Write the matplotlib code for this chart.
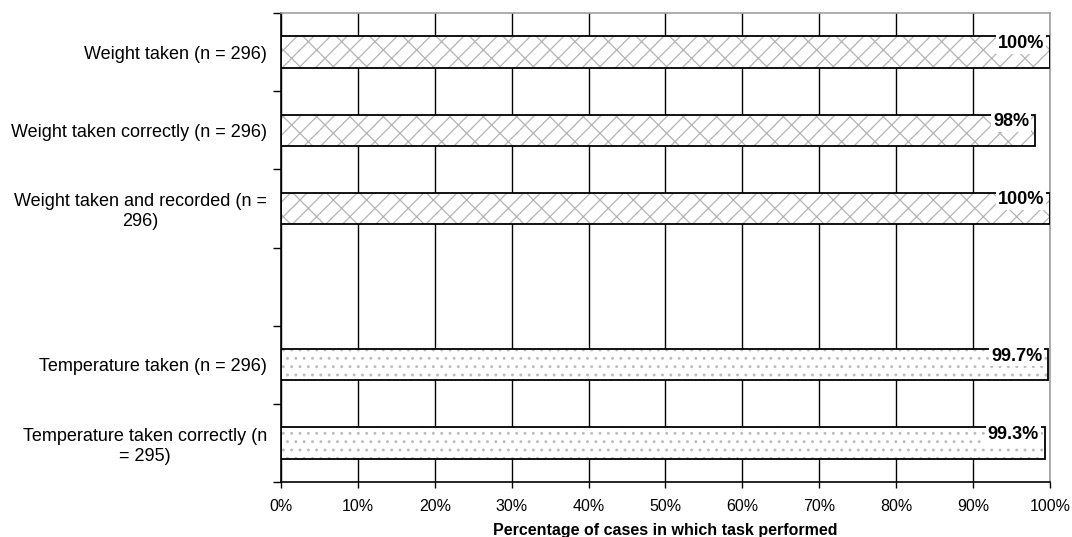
import matplotlib.pyplot as plt
import numpy as np

plt.rcParams['font.family'] = ['Liberation Sans', 'DejaVu Sans']
plt.rcParams['hatch.linewidth'] = 0.9

# tasks, top to bottom; the empty slot separates weight from temperature
tasks = ['Weight taken (n = 296)',
         'Weight taken correctly (n = 296)',
         'Weight taken and recorded (n =\n296)',
         '',
         'Temperature taken (n = 296)',
         'Temperature taken correctly (n\n= 295)']
pct = [100, 98, 100, None, 99.7, 99.3]
labels = ['100%', '98%', '100%', '', '99.7%', '99.3%']
group = ['weight', 'weight', 'weight', '', 'temp', 'temp']

hatch_of = {'weight': '/x', 'temp': '..'}
hatch_col = {'weight': '#b4b4b4', 'temp': '#bdbdbd'}

fig = plt.figure(figsize=(10.72, 5.37), dpi=100)
ax = fig.add_axes([0.2621, 0.1024, 0.7174, 0.8734])

pos = np.arange(len(tasks))
bar_h = 0.4

for i in pos:
    if pct[i] is None:
        continue
    # hatch layer (drawn in edge colour, no outline)
    ax.barh(i, pct[i], height=bar_h, color='white', edgecolor=hatch_col[group[i]],
            hatch=hatch_of[group[i]], linewidth=0, zorder=2)
    # black outline on top
    ax.barh(i, pct[i], height=bar_h, fill=False, edgecolor='black',
            linewidth=1.3, zorder=3)
    ax.annotate(labels[i], xy=(pct[i], i - bar_h / 2), xytext=(-4, -5),
                textcoords='offset points', ha='right', va='center',
                fontsize=13, fontweight='bold', zorder=4,
                bbox=dict(boxstyle='square,pad=0.1', fc='white', ec='none'))

ax.set_xlim(0, 100)
ax.set_ylim(len(tasks) - 0.5, -0.5)

ax.set_xticks(np.arange(0, 101, 10))
ax.set_xticklabels(['%d%%' % v for v in range(0, 101, 10)], fontsize=11.5)
ax.tick_params(axis='x', length=4, width=1, pad=8, color='black')

# category names at slot centres, tick marks on slot boundaries
ax.set_yticks(pos)
ax.set_yticklabels(tasks, fontsize=13, multialignment='center')
ax.tick_params(axis='y', which='major', length=0, pad=10)
ax.set_yticks(np.arange(-0.5, len(tasks), 1), minor=True)
ax.tick_params(axis='y', which='minor', length=6, width=1, color='black')

ax.xaxis.grid(True, color='black', linewidth=1)
ax.set_axisbelow(True)

for side in ['top', 'right']:
    ax.spines[side].set_color('#a0a0a0')
    ax.spines[side].set_linewidth(1.2)
for side in ['left', 'bottom']:
    ax.spines[side].set_color('black')
    ax.spines[side].set_linewidth(1.2)

ax.set_xlabel('Percentage of cases in which task performed', fontsize=11.5,
              fontweight='bold', labelpad=7)

fig.savefig('out.png', dpi=100)
